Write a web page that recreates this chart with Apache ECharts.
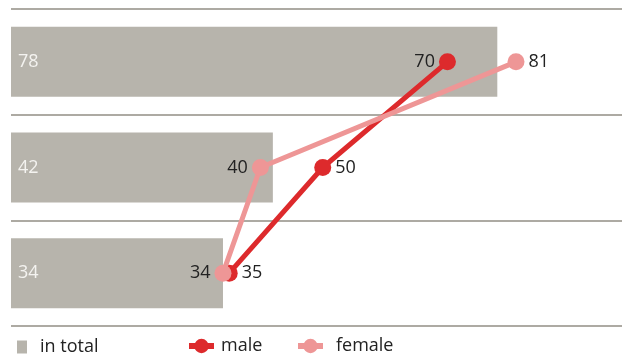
<!DOCTYPE html>
<html>
<head>
<meta charset="utf-8">
<script src="https://cdn.jsdelivr.net/npm/echarts@6/dist/echarts.min.js"></script>
<style>
  html, body { margin: 0; padding: 0; background: #fff; }
  #chart { width: 623px; height: 356px; }
</style>
</head>
<body>
<div id="chart"></div>
<script>
// Three groups, top to bottom
const categories = ['A', 'B', 'C'];
const totalValues = [78, 42, 34];
const maleValues = [70, 50, 35];
const femaleValues = [81, 40, 34];
const maleLabelSides = ['left', 'right', 'right'];
const femaleLabelSides = ['right', 'left', 'left'];

const FONT = 'Open Sans';
const GREY = '#b7b4ac';
const RED = '#dd2a2c';
const PINK = '#ee9696';

const chart = echarts.init(document.getElementById('chart'), null, { renderer: 'canvas' });

function pointData(values, sides) {
  return values.map((v, i) => ({
    value: v,
    label: { position: sides[i] }
  }));
}

const legendText = { fontFamily: FONT, fontSize: 18, color: '#222' };

const option = {
  animation: false,
  grid: { left: 11, right: 1, top: 9, bottom: 30, containLabel: false },
  xAxis: {
    type: 'value', min: 0, max: 98,
    show: false
  },
  yAxis: {
    type: 'category',
    data: categories,
    inverse: true,
    boundaryGap: true,
    axisLine: { show: false },
    axisTick: { show: false },
    axisLabel: { show: false },
    splitLine: {
      show: true,
      interval: 0,
      lineStyle: { color: '#adaaa3', width: 2, type: 'solid' }
    }
  },
  legend: [
    {
      left: 12, top: 333,
      itemWidth: 10, itemHeight: 13,
      icon: 'rect',
      data: ['in total'],
      textStyle: Object.assign({ padding: [0, 0, 0, 8] }, legendText)
    },
    {
      left: 181, top: 332,
      itemWidth: 25, itemHeight: 18,
      data: [{ name: 'male', lineStyle: { width: 6 } }],
      textStyle: Object.assign({ padding: [0, 0, 0, 2] }, legendText)
    },
    {
      left: 290, top: 332,
      itemWidth: 25, itemHeight: 18,
      data: [{ name: 'female', lineStyle: { width: 6 } }],
      textStyle: Object.assign({ padding: [0, 0, 0, 8] }, legendText)
    }
  ],
  series: [
    {
      name: 'in total',
      type: 'bar',
      data: totalValues,
      barWidth: 70,
      itemStyle: { color: GREY },
      label: {
        show: true,
        position: 'insideLeft',
        distance: 7,
        color: '#f4f3f0',
        fontFamily: FONT,
        fontSize: 18
      },
      z: 1
    },
    {
      name: 'male',
      type: 'line',
      data: pointData(maleValues, maleLabelSides),
      symbol: 'circle',
      symbolSize: 17,
      lineStyle: { color: RED, width: 5 },
      itemStyle: { color: RED },
      label: {
        show: true,
        distance: 4,
        color: '#222',
        fontFamily: FONT,
        fontSize: 18
      },
      z: 3
    },
    {
      name: 'female',
      type: 'line',
      data: pointData(femaleValues, femaleLabelSides),
      symbol: 'circle',
      symbolSize: 17,
      lineStyle: { color: PINK, width: 5 },
      itemStyle: { color: PINK },
      label: {
        show: true,
        distance: 4,
        color: '#222',
        fontFamily: FONT,
        fontSize: 18
      },
      z: 4
    }
  ]
};

chart.setOption(option);
</script>
</body>
</html>
